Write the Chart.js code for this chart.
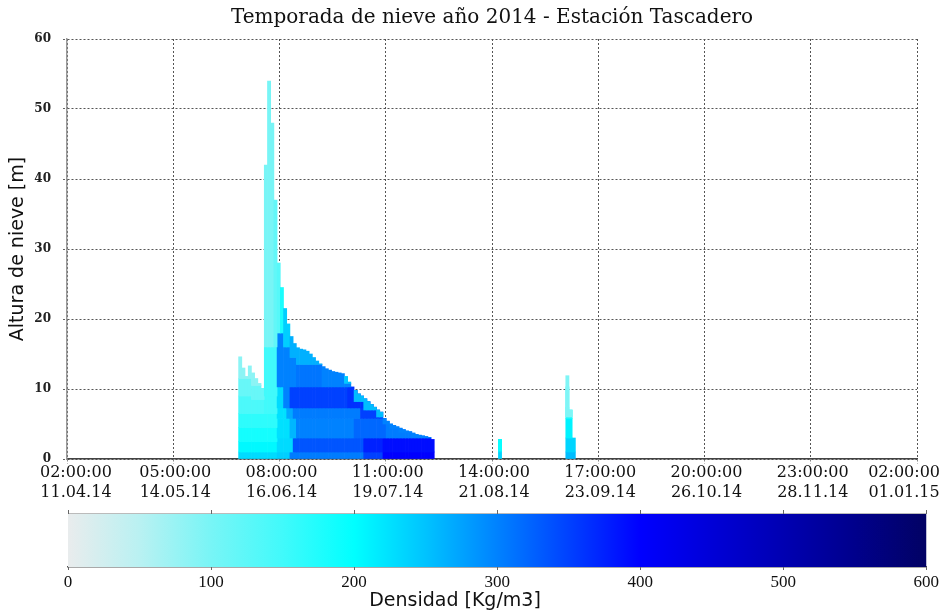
<!DOCTYPE html>
<html><head><meta charset="utf-8">
<script src="https://cdn.jsdelivr.net/npm/chart.js@4.4.1/dist/chart.umd.min.js"></script>
<style>
html,body{margin:0;padding:0;background:#fff;}
#wrap{position:relative;width:944px;height:616px;overflow:hidden;}
#main{position:absolute;left:0;top:0;}
#cbar{position:absolute;left:0;top:505px;}
</style></head><body>
<div id="wrap"><canvas id="main" width="944" height="505"></canvas><canvas id="cbar" width="944" height="111"></canvas></div>
<script>
// ---- x axis: days since 11.04.14 02:00 ----
const tickDays  = [0, 33.125, 66.25, 99.375, 132.5, 165.625, 198.75, 231.875, 265];
const tickTimes = ['02:00:00','05:00:00','08:00:00','11:00:00','14:00:00','17:00:00','20:00:00','23:00:00','02:00:00'];
const tickDates = ['11.04.14','14.05.14','16.06.14','19.07.14','21.08.14','23.09.14','26.10.14','28.11.14','01.01.15'];

// ---- snow columns (day, total depth) ----
const days  = [54,55,56,57,58,59,60,61,62,63,64,65,66,67,68,69,70,71,72,73,74,75,76,77,78,79,80,81,82,83,84,85,86,87,88,89,90,91,92,93,94,95,96,97,98,99,100,101,102,103,104,105,106,107,108,109,110,111,112,113,114,135,156,157,158];
const depth = [14.6,13.0,11.8,13.3,12.3,11.5,10.8,10.1,42.0,54.0,48.0,37.0,28.0,24.5,21.5,19.3,17.5,16.5,15.9,15.7,15.6,15.4,15.0,14.5,14.0,13.6,13.2,12.9,12.7,12.5,12.4,12.3,12.2,11.8,11.0,10.3,9.8,9.3,9.0,8.6,8.2,7.8,7.4,7.0,6.7,5.8,5.4,5.0,4.8,4.6,4.4,4.2,4.0,3.9,3.7,3.5,3.4,3.3,3.2,3.1,2.8,2.8,11.9,7.0,3.0];

// ---- layer tops [fromDay, height m] (bottom to top, last layer reaches the surface) ----
const top1 = [[50,1.0]];
const top2 = [[50,2.5],[66,3.0]];
const top3 = [[50,4.5],[66,5.8]];
const top4 = [[50,6.5],[66,7.3]];
const top5 = [[50,9.0],[58,8.5],[62,9.0],[66,10.3]];
const top6 = [[50,11.5],[58,10.5],[62,16],[66,18],[68,16],[70,14.5],[72,13.5],[87,10.8],[90,8.2],[93,7.0],[97,6.0],[99,5.0],[101,4.4],[104,3.8],[108,3.1],[135,1.2],[156,6.0]];

// ---- layer densities [fromDay, kg/m3] ----
const dens1 = [[50,230],[66,240],[70,305],[93,350],[99,400],[130,235],[150,255]];
const dens2 = [[50,205],[66,230],[71,335],[93,375],[99,390],[130,215],[150,235]];
const dens3 = [[50,185],[66,225],[70,260],[72,300],[90,320],[100,305],[130,200],[150,210]];
const dens4 = [[50,165],[66,225],[69,270],[71,305],[92,350],[130,180]];
const dens5 = [[50,140],[62,150],[66,230],[68,300],[70,350],[88,362],[130,150]];
const dens6 = [[50,115],[62,150],[66,300],[72,310],[80,300],[130,120]];
const dens7 = [[50,85],[62,100],[65,120],[66,130],[67,180],[68,240],[70,265],[85,245],[88,255],[99,300],[130,195],[150,95]];

// ---- colour scale ----
const cmapVals = [0,50,100,150,200,250,300,350,400,450,500,550,600];
const cmapCols = [[233,236,237],[185,241,242],[120,245,246],[65,250,251],[0,255,255],[0,195,255],[0,130,255],[0,65,255],[0,0,255],[0,0,215],[0,0,178],[0,0,140],[2,2,100]];

function pick(pieces, d){ let v = pieces[0][1]; for (const p of pieces){ if (d >= p[0]) v = p[1]; } return v; }
function densityColor(v){
  v = Math.max(0, Math.min(600, v));
  for (let i=0;i<cmapVals.length-1;i++){
    if (v <= cmapVals[i+1]){
      const t = (v-cmapVals[i])/(cmapVals[i+1]-cmapVals[i]);
      const a=cmapCols[i], b=cmapCols[i+1];
      return 'rgb('+[0,1,2].map(k=>Math.round(a[k]+(b[k]-a[k])*t)).join(',')+')';
    }
  }
  return 'rgb(2,2,100)';
}

const tops = [top1,top2,top3,top4,top5,top6];
const dens = [dens1,dens2,dens3,dens4,dens5,dens6,dens7];
const datasets = [];
for (let L=0; L<7; L++){
  const pts=[], cols=[];
  days.forEach((d,i)=>{
    const lo = L===0 ? 0 : Math.min(pick(tops[L-1],d), depth[i]);
    const hi = L===6 ? depth[i] : Math.min(pick(tops[L],d), depth[i]);
    const base = L===6 ? Math.min(pick(tops[5],d), depth[i]) : lo;
    if (hi > base){ pts.push({x:d, y:[base,hi]}); cols.push(densityColor(pick(dens[L],d))); }
  });
  datasets.push({label:'Capa '+(L+1), data:pts, backgroundColor:cols, borderWidth:0,
    grouped:false, barPercentage:1, categoryPercentage:1, order:7-L});
}

const xLabelPlugin = {
  id:'xLabels',
  afterDraw(chart){
    const s = chart.scales.x, ctx = chart.ctx;
    ctx.save();
    ctx.font = '16px "DejaVu Serif"';
    ctx.fillStyle = '#111';
    ctx.textAlign = 'center';
    ctx.textBaseline = 'middle';
    tickDays.forEach((v,i)=>{
      const w = Math.max(ctx.measureText(tickTimes[i]).width, ctx.measureText(tickDates[i]).width);
      let cx = s.getPixelForValue(v) + 2;
      cx = Math.max(cx, 40 + w/2);
      cx = Math.min(cx, 940 - w/2);
      ctx.fillText(tickTimes[i], cx, 473);
      ctx.fillText(tickDates[i], cx, 493);
    });
    ctx.restore();
  }
};

new Chart(document.getElementById('main'), {
  type:'bar',
  data:{datasets},
  options:{
    responsive:false, animation:false,
    layout:{padding:{left:0,right:27,top:0,bottom:0}},
    plugins:{
      legend:{display:false}, tooltip:{enabled:false},
      title:{display:true, fullSize:false, text:'Temporada de nieve año 2014 - Estación Tascadero',
        font:{family:'DejaVu Serif', size:20, weight:'normal', lineHeight:1.2}, color:'#111',
        padding:{top:6,bottom:9}}
    },
    scales:{
      x:{type:'linear', min:0, max:265, offset:false,
        afterBuildTicks:s=>{ s.ticks = tickDays.map(v=>({value:v})); },
        ticks:{display:false},
        grid:{color:'#555', lineWidth:1, offset:false, tickLength:5, tickColor:'#888', tickBorderDash:[2,2]},
        border:{display:true, color:'#444', width:1.5, dash:[2,2]},
        afterFit:s=>{ s.height = 46; }
      },
      y:{type:'linear', min:0, max:60,
        ticks:{stepSize:10, font:{family:'DejaVu Serif', size:12, weight:'bold'}, color:'#222', padding:12},
        grid:{color:'#555', lineWidth:1, tickLength:4, tickColor:'#666', tickBorderDash:[2,2]},
        border:{display:true, color:'#999', width:1.5, dash:[2,2]},
        title:{display:true, text:'Altura de nieve [m]', font:{family:'DejaVu Sans', size:19}, color:'#111', padding:{top:7,bottom:0}},
        afterFit:s=>{ s.width = 67; }
      }
    }
  },
  plugins:[xLabelPlugin]
});

// ---- colour bar ----
const cbarTicks = [0,100,200,300,400,500,600];
const cbarTitle = 'Densidad [Kg/m3]';
const gradientPlugin = {
  id:'gradientBar',
  beforeDatasetsDraw(chart){
    const a = chart.chartArea, ctx = chart.ctx, s = chart.scales.x;
    const g = ctx.createLinearGradient(a.left,0,a.right,0);
    cmapVals.forEach((v,i)=>{ g.addColorStop(v/600, 'rgb('+cmapCols[i].join(',')+')'); });
    ctx.save();
    ctx.fillStyle = g;
    ctx.fillRect(a.left, a.top, a.right-a.left, a.bottom-a.top);
    ctx.strokeStyle = '#bbb'; ctx.lineWidth = 1;
    ctx.beginPath(); ctx.moveTo(a.left, a.top+0.5); ctx.lineTo(a.right, a.top+0.5); ctx.stroke();
    ctx.strokeStyle = '#666';
    ctx.beginPath();
    cbarTicks.forEach(v=>{ const x = Math.round(s.getPixelForValue(v))+0.5;
      ctx.moveTo(x, a.top-3); ctx.lineTo(x, a.top+1);
      ctx.moveTo(x, a.bottom); ctx.lineTo(x, a.bottom+3); });
    ctx.stroke();
    ctx.restore();
  },
  afterDraw(chart){
    const ctx = chart.ctx;
    ctx.save();
    ctx.font = '19px "DejaVu Sans"';
    ctx.fillStyle = '#111';
    ctx.textAlign = 'center';
    ctx.textBaseline = 'middle';
    ctx.fillText(cbarTitle, 455, 96);
    ctx.restore();
  }
};
new Chart(document.getElementById('cbar'), {
  type:'scatter',
  data:{datasets:[{data:[]}]},
  options:{
    responsive:false, animation:false,
    layout:{padding:{left:68,right:16,top:8,bottom:0}},
    plugins:{legend:{display:false}, tooltip:{enabled:false}},
    scales:{
      x:{type:'linear', min:0, max:600,
        afterBuildTicks:s=>{ s.ticks = cbarTicks.map(v=>({value:v})); },
        ticks:{font:{family:'Liberation Serif', size:17}, color:'#111', padding:5},
        grid:{display:false, drawTicks:false},
        border:{display:true, color:'#555', width:1.5},
        afterFit:s=>{ s.height = 49; }
      },
      y:{display:false, min:0, max:1}
    }
  },
  plugins:[gradientPlugin]
});
</script>
</body></html>
